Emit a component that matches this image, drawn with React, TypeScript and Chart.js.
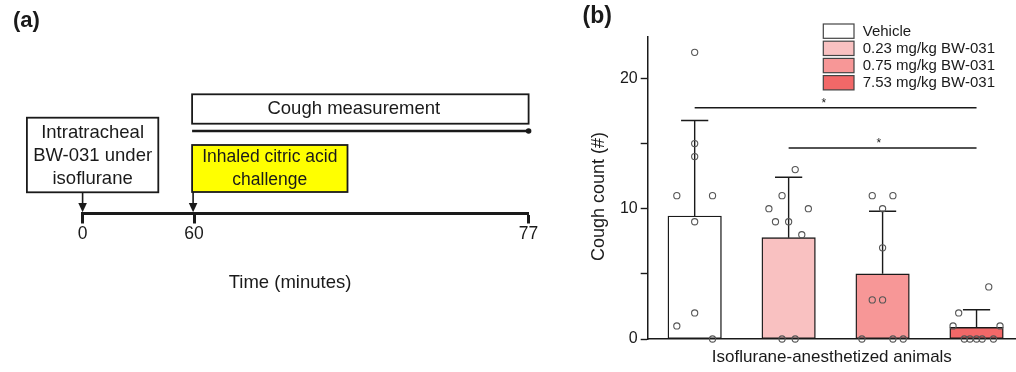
import React, { useEffect, useRef } from 'react';
import { Chart, registerables } from 'chart.js';

Chart.register(...registerables);

const FONT = '"Liberation Sans", Arial, Helvetica, sans-serif';

// ---------- Panel (a): timeline ----------
const timeLabels = ['0', '60', '', '', '77'];
const timeTitle = 'Time (minutes)';
const doseBoxLines = ['Intratracheal', 'BW-031 under', 'isoflurane'];
const challengeLines = ['Inhaled citric acid', 'challenge'];
const measurementLabel = 'Cough measurement';

// ---------- Panel (b): cough counts ----------
const groups = ['Vehicle', '0.23 mg/kg BW-031', '0.75 mg/kg BW-031', '7.53 mg/kg BW-031'];
const groupColors = ['#ffffff', '#f9c1c1', '#f79797', '#f26868'];
const meanCough = [9.44, 7.78, 5.0, 0.89];
const sdCough = [7.33, 4.63, 4.8, 1.36];

const vehicleCounts = [22, 15, 14, 11, 11, 9, 2, 1, 0];
const vehicleJitter = [0, 0, 0, -0.19, 0.19, 0, 0, -0.19, 0.19];
const lowCounts = [13, 11, 10, 10, 9, 9, 8, 0, 0];
const lowJitter = [0.07, -0.07, -0.21, 0.21, -0.14, 0, 0.14, -0.07, 0.07];
const midCounts = [11, 11, 10, 7, 3, 3, 0, 0, 0];
const midJitter = [-0.11, 0.11, 0, 0, -0.11, 0, -0.22, 0.11, 0.22];
const highCounts = [4, 2, 1, 1, 0, 0, 0, 0, 0];
const highJitter = [0.13, -0.19, -0.25, 0.25, -0.13, -0.07, 0, 0.06, 0.18];

const yLabeledTicks = [0, 10, 20];
const yTitle = 'Cough count (#)';
const xTitle = 'Isoflurane-anesthetized animals';

const sigFrom = [0, 1];
const sigTo = [3, 3];
const sigLevel = [17.75, 14.66];
const sigStarAt = [1.375, 1.96];
const sigText = ['*', '*'];

const allCounts = [vehicleCounts, lowCounts, midCounts, highCounts];
const allJitter = [vehicleJitter, lowJitter, midJitter, highJitter];

const INK = '#1a1a1a';

const timelinePlugin = {
  id: 'timelineDecor',
  afterDraw(chart: any) {
    const { ctx, chartArea } = chart;
    const xs = chart.scales.x;
    const base = chartArea.bottom;
    const x0 = xs.getPixelForValue(0);
    const x60 = xs.getPixelForValue(1);
    const xEnd = xs.getPixelForValue(4);
    ctx.save();
    ctx.fillStyle = INK;
    ctx.textBaseline = 'middle';

    // panel label
    ctx.font = `bold 22px ${FONT}`;
    ctx.textAlign = 'left';
    ctx.fillText('(a)', 13, 21);

    ctx.strokeStyle = INK;
    ctx.lineWidth = 1.8;

    // dosing box
    const b1l = x0 - 55.7, b1r = x0 + 75.7, b1t = base - 95.8, b1b = base - 21.2;
    ctx.fillStyle = '#ffffff';
    ctx.fillRect(b1l, b1t, b1r - b1l, b1b - b1t);
    ctx.strokeRect(b1l, b1t, b1r - b1l, b1b - b1t);
    ctx.fillStyle = INK;
    ctx.font = `18.5px ${FONT}`;
    ctx.textAlign = 'center';
    const b1c = (b1l + b1r) / 2;
    doseBoxLines.forEach((t, i) => ctx.fillText(t, b1c, base - 80.8 + i * 23));

    // measurement box
    const cl = x60 - 2, cr = xEnd, ct = base - 119.2, cbm = base - 89.8;
    ctx.strokeRect(cl, ct, cr - cl, cbm - ct);
    ctx.fillText(measurementLabel, (cl + cr) / 2 - 6.5, base - 104.2);

    // measurement period line with end dot
    ctx.lineWidth = 2.6;
    ctx.beginPath();
    ctx.moveTo(cl, base - 82.5);
    ctx.lineTo(cr, base - 82.5);
    ctx.stroke();
    ctx.beginPath();
    ctx.arc(cr, base - 82.5, 2.8, 0, Math.PI * 2);
    ctx.fill();

    // challenge box
    ctx.lineWidth = 1.8;
    const yl = x60 - 2, yr = x60 + 153.4, yt = base - 68.5, yb = base - 21.5;
    ctx.fillStyle = '#ffff00';
    ctx.fillRect(yl, yt, yr - yl, yb - yt);
    ctx.strokeRect(yl, yt, yr - yl, yb - yt);
    ctx.fillStyle = INK;
    ctx.font = `17.5px ${FONT}`;
    challengeLines.forEach((t, i) => ctx.fillText(t, (yl + yr) / 2, base - 56.8 + i * 23.3));

    // arrows
    const arrow = (x: number, yTop: number) => {
      ctx.lineWidth = 1.6;
      ctx.beginPath();
      ctx.moveTo(x, yTop);
      ctx.lineTo(x, base - 8);
      ctx.stroke();
      ctx.beginPath();
      ctx.moveTo(x - 4.3, base - 10.5);
      ctx.lineTo(x + 4.3, base - 10.5);
      ctx.lineTo(x, base - 1.3);
      ctx.closePath();
      ctx.fill();
    };
    arrow(x0, b1b);
    arrow(x60 - 1, yb);

    // axis title
    ctx.font = `18.5px ${FONT}`;
    ctx.fillText(timeTitle, (x0 + xEnd) / 2 - 15.6, base + 69.2);
    ctx.restore();
  },
};

const coughPlugin = {
  id: 'coughDecor',
  afterDatasetDraw(chart: any, args: any) {
    if (args.meta.type !== 'bar') return;
    const { ctx } = chart;
    const xs = chart.scales.x;
    const ys = chart.scales.y;
    ctx.save();
    ctx.strokeStyle = INK;
    ctx.lineWidth = 1.4;
    meanCough.forEach((m, i) => {
      const x = xs.getPixelForValue(i);
      const yTop = ys.getPixelForValue(m + sdCough[i]);
      const yBar = ys.getPixelForValue(m);
      ctx.beginPath();
      ctx.moveTo(x, yBar);
      ctx.lineTo(x, yTop);
      ctx.moveTo(x - 13.6, yTop);
      ctx.lineTo(x + 13.6, yTop);
      ctx.stroke();
    });
    ctx.restore();
  },
  afterDraw(chart: any) {
    const { ctx, chartArea } = chart;
    const xs = chart.scales.x;
    const ys = chart.scales.y;
    ctx.save();
    ctx.fillStyle = INK;
    ctx.strokeStyle = INK;

    // panel label
    ctx.font = `bold 23px ${FONT}`;
    ctx.textAlign = 'left';
    ctx.textBaseline = 'middle';
    ctx.fillText('(b)', 12.5, 17);

    // y title
    ctx.save();
    ctx.translate(chartArea.left - 48.2, (chartArea.top + chartArea.bottom) / 2 + 8.6);
    ctx.rotate(-Math.PI / 2);
    ctx.font = `18px ${FONT}`;
    ctx.textAlign = 'center';
    ctx.fillText(yTitle, 0, 0);
    ctx.restore();

    // significance bars
    ctx.lineWidth = 1.5;
    sigLevel.forEach((lv, i) => {
      const y = ys.getPixelForValue(lv);
      ctx.beginPath();
      ctx.moveTo(xs.getPixelForValue(sigFrom[i]), y);
      ctx.lineTo(xs.getPixelForValue(sigTo[i]), y);
      ctx.stroke();
      ctx.font = `12px ${FONT}`;
      ctx.textAlign = 'center';
      ctx.textBaseline = 'alphabetic';
      ctx.fillText(sigText[i], xs.getPixelForValue(sigStarAt[i]), y - 0.5);
    });

    // legend
    const lx = chartArea.right - 192.7;
    const ly = chartArea.top - 12.7;
    ctx.font = `15px ${FONT}`;
    ctx.textAlign = 'left';
    ctx.textBaseline = 'middle';
    ctx.lineWidth = 1.2;
    groups.forEach((g, i) => {
      const top = ly + i * 17.2;
      ctx.fillStyle = groupColors[i];
      ctx.fillRect(lx, top, 30.7, 14.3);
      ctx.strokeStyle = '#444';
      ctx.strokeRect(lx, top, 30.7, 14.3);
      ctx.fillStyle = INK;
      ctx.fillText(g, lx + 39.4, top + 7.4);
    });
    ctx.restore();
  },
};

export default function App() {
  const aRef = useRef<HTMLCanvasElement>(null);
  const bRef = useRef<HTMLCanvasElement>(null);

  useEffect(() => {
    const chartA = new Chart(aRef.current as HTMLCanvasElement, {
      type: 'line',
      data: { labels: timeLabels, datasets: [] },
      options: {
        animation: false,
        responsive: false,
        layout: { autoPadding: false, padding: { left: 82.6, right: 41.4, top: 0, bottom: 0 } },
        plugins: { legend: { display: false }, tooltip: { enabled: false } },
        scales: {
          x: {
            type: 'category',
            offset: false,
            grid: {
              drawOnChartArea: false,
              tickLength: 10,
              tickWidth: 3,
              tickColor: (c: any) => (timeLabels[c.index] ? INK : 'rgba(0,0,0,0)'),
            },
            border: { color: INK, width: 3 },
            ticks: {
              autoSkip: false,
              maxRotation: 0,
              padding: 0,
              color: INK,
              font: { family: FONT, size: 17.5 },
            },
            afterFit: (s: any) => {
              s.height = 158.5;
            },
          },
          y: { display: false },
        },
      },
      plugins: [timelinePlugin],
    } as any);

    const points: { x: number; y: number }[] = [];
    allCounts.forEach((arr, g) =>
      arr.forEach((v, k) => points.push({ x: g + allJitter[g][k], y: v }))
    );

    const chartB = new Chart(bRef.current as HTMLCanvasElement, {
      type: 'bar',
      data: {
        datasets: [
          {
            type: 'bar',
            label: 'mean',
            data: meanCough.map((m, i) => ({ x: i, y: m })),
            backgroundColor: groupColors,
            borderColor: INK,
            borderWidth: 1.4,
            borderSkipped: false,
            barThickness: 53.5,
            order: 2,
          },
          {
            type: 'scatter',
            label: 'animals',
            data: points,
            pointRadius: 3.1,
            pointBorderWidth: 1.1,
            borderColor: '#555',
            backgroundColor: 'rgba(0,0,0,0)',
            pointBackgroundColor: 'rgba(0,0,0,0)',
            pointBorderColor: '#555',
            clip: false,
            order: 1,
          },
        ],
      },
      options: {
        animation: false,
        responsive: false,
        layout: { autoPadding: false, padding: { left: 0, right: 0, top: 36.7, bottom: 0 } },
        plugins: { legend: { display: false }, tooltip: { enabled: false } },
        scales: {
          x: {
            type: 'linear',
            min: -0.5,
            max: 3.42,
            offset: false,
            grid: { display: false },
            ticks: { display: false },
            border: { display: true, color: INK, width: 1.5 },
            title: {
              display: true,
              text: xTitle,
              color: INK,
              font: { family: FONT, size: 17 },
              padding: { top: 0, bottom: 4 },
            },
            afterFit: (s: any) => {
              s.height = 33;
            },
          },
          y: {
            min: 0,
            max: 23.2,
            ticks: {
              stepSize: 5,
              includeBounds: false,
              padding: 3,
              color: INK,
              font: { family: FONT, size: 16 },
              callback: (v: any) => (yLabeledTicks.includes(Number(v)) ? String(v) : ''),
            },
            grid: { drawOnChartArea: false, tickLength: 7, tickWidth: 1.4, tickColor: INK },
            border: { color: INK, width: 1.5 },
            afterFit: (s: any) => {
              s.width = 77.7;
            },
          },
        },
      },
      plugins: [coughPlugin],
    } as any);

    return () => {
      chartA.destroy();
      chartB.destroy();
    };
  }, []);

  return (
    <div
      style={{
        position: 'absolute',
        left: 0,
        top: 0,
        width: 1016,
        height: 372,
        background: '#ffffff',
        overflow: 'hidden',
      }}
    >
      <canvas ref={aRef} width={570} height={372} style={{ position: 'absolute', left: 0, top: 0 }} />
      <canvas ref={bRef} width={446} height={372} style={{ position: 'absolute', left: 570, top: 0 }} />
    </div>
  );
}
